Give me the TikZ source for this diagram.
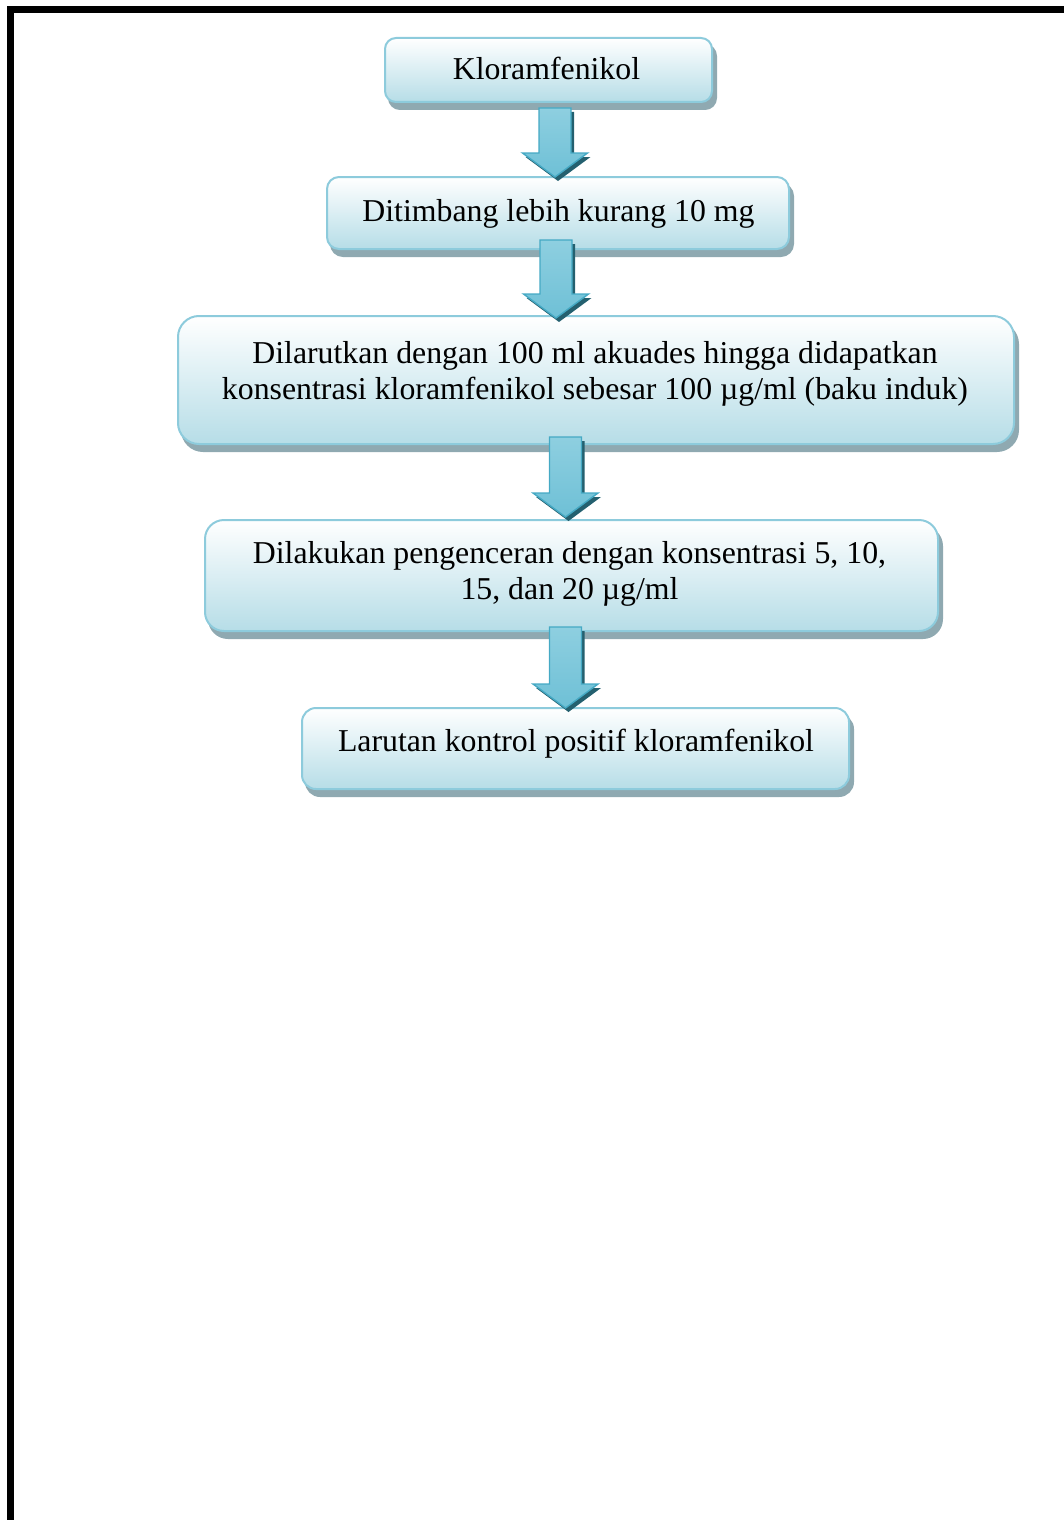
\documentclass[tikz,border=0pt]{standalone}
\usepackage{fontspec}
\setmainfont{Liberation Serif}
\usetikzlibrary{calc}

\definecolor{boxline}{HTML}{8DCBDC}
\definecolor{boxlow}{HTML}{B6DDE7}
\definecolor{boxshadow}{HTML}{8FA9B1}
\definecolor{arrowtop}{HTML}{8ECFE0}
\definecolor{arrowmid}{HTML}{45ABC6}
\definecolor{arrowbot}{HTML}{6EC0D6}
\definecolor{arrowline}{HTML}{45A9C4}
\definecolor{arrowdark}{HTML}{24606F}

% block arrow pointing down from #1 (top of shaft) to #2 (tip)
\newcommand\flowarrow[2]{%
  \fill[arrowdark, transform canvas={shift={(1.5pt,-2pt)}}]
    ($(#1)+(-16,0)$) -- ($(#1)+(16,0)$) -- ($(#2)+(16,-24)$) -- ($(#2)+(32.5,-24)$)
    -- (#2) -- ($(#2)+(-32.5,-24)$) -- ($(#2)+(-16,-24)$) -- cycle;
  \shadedraw[arrowbody]
    ($(#1)+(-16,0)$) -- ($(#1)+(16,0)$) -- ($(#2)+(16,-24)$) -- ($(#2)+(32.5,-24)$)
    -- (#2) -- ($(#2)+(-32.5,-24)$) -- ($(#2)+(-16,-24)$) -- cycle;
}

\tikzset{
  flowbox/.style={rectangle, draw=boxline, line width=1pt,
    top color=white, bottom color=boxlow, inner sep=0pt,
    preaction={fill=boxshadow, draw=boxshadow, line width=1pt,
      transform canvas={shift={(2pt,-3.5pt)}}}},
  boxtext/.style={inner sep=0pt, align=center,
    font=\fontsize{15.9pt}{17.8pt}\selectfont},
  arrowbody/.style={draw=arrowline, line width=0.7pt,
    top color=arrowtop, middle color=arrowmid, bottom color=arrowbot},
}

\begin{document}
\begin{tikzpicture}[x=0.5pt, y=-0.5pt]
\useasboundingbox (0,0) rectangle (1064,1520);

% page frame
\fill[black] (7,6) rectangle (14,1520);
\fill[black] (7,6) rectangle (1064,13);

% process boxes
\node[flowbox, rounded corners=5.5pt, minimum width=163.5pt, minimum height=32pt] (b1) at (548.5,70) {};
\node[flowbox, rounded corners=6pt, minimum width=231pt, minimum height=36pt] (b2) at (558,213) {};
\node[flowbox, rounded corners=10.5pt, minimum width=418pt, minimum height=64pt] (b3) at (596,380) {};
\node[flowbox, rounded corners=9.5pt, minimum width=366.5pt, minimum height=55.5pt] (b4) at (571.5,575.5) {};
\node[flowbox, rounded corners=7pt, minimum width=273.5pt, minimum height=40.5pt] (b5) at (575.5,748.5) {};

% box labels
\node[boxtext, anchor=base] (t1) at (546.5,80) {Kloramfenikol};
\node[boxtext, anchor=base] (t2) at (558.5,221) {Ditimbang lebih kurang 10 mg};
\node[boxtext] (t3) at (595,374) {Dilarutkan dengan 100 ml akuades hingga didapatkan\\konsentrasi kloramfenikol sebesar 100 µg/ml (baku induk)};
\node[boxtext] (t4) at (569.5,574) {Dilakukan pengenceran dengan konsentrasi 5, 10,\\15, dan 20 µg/ml};
\node[boxtext, anchor=base] (t5) at (576,751) {Larutan kontrol positif kloramfenikol};

% arrow end points
\coordinate (a1s) at (555,108);
\coordinate (a1e) at (555,177);
\coordinate (a2s) at (556,240);
\coordinate (a2e) at (556,318);
\coordinate (a3s) at (565.5,437);
\coordinate (a3e) at (565.5,517);
\coordinate (a4s) at (565.5,627);
\coordinate (a4e) at (565.5,708);

\flowarrow{a1s}{a1e}
\flowarrow{a2s}{a2e}
\flowarrow{a3s}{a3e}
\flowarrow{a4s}{a4e}
\end{tikzpicture}
\end{document}
